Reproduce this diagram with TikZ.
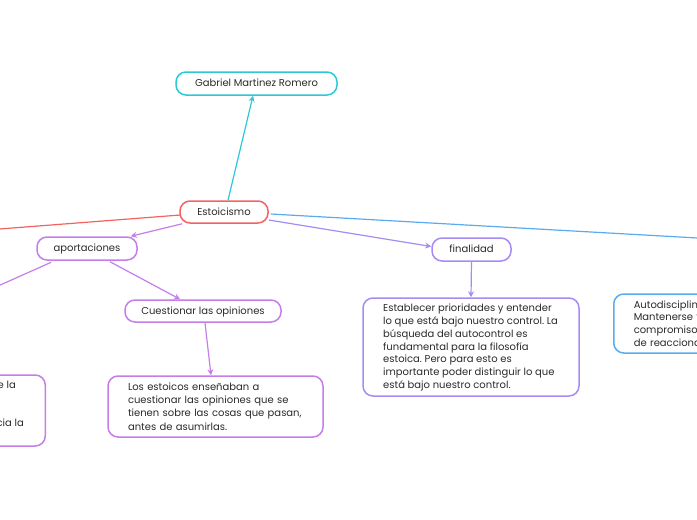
\documentclass[tikz,border=0pt]{standalone}
\usepackage{fontspec}
\setmainfont{Poppins}
\frenchspacing
\usetikzlibrary{arrows.meta,calc}
\definecolor{cyanc}{HTML}{2BC8D8}
\definecolor{redc}{HTML}{F2625F}
\definecolor{purc}{HTML}{C57DEA}
\definecolor{lavc}{HTML}{A68CF2}
\definecolor{bluec}{HTML}{5AAAF0}
\definecolor{txt}{HTML}{2A2A2A}
\begin{document}
\begin{tikzpicture}[x=1pt,y=-1pt,
  box/.style={draw,line width=1.5pt,rounded corners=10pt,inner sep=0pt,text=txt,
    font=\fontsize{10}{12.8}\selectfont},
  lbox/.style={box,text height=8.5pt,text depth=2pt},
  tbox/.style={box,align=left},
  conn/.style={line width=1.2pt},
  arr/.style={conn,-{Stealth[length=6pt,width=6pt]}}]
\useasboundingbox (0,0) rectangle (697,520);
% nodes
\node[lbox,draw=cyanc,minimum width=161pt,minimum height=23pt] (gab) at (256.5,83.5) {Gabriel Martinez Romero};
\node[lbox,draw=redc,minimum width=88pt,minimum height=22pt] (est) at (224,212) {Estoicismo};
\node[lbox,draw=purc,minimum width=100pt,minimum height=23pt] (apo) at (87,248.5) {aportaciones};
\node[lbox,draw=lavc,minimum width=79pt,minimum height=23pt] (fin) at (471.5,249.5) {finalidad};
\node[lbox,draw=purc,minimum width=156pt,minimum height=22pt] (cue) at (203,311) {Cuestionar las opiniones};
\node[tbox,draw=purc,minimum width=215pt,minimum height=61pt,text width=175pt,
  font=\fontsize{10}{13.4}\selectfont] (los) at (215.5,406.5)
  {Los estoicos enseñaban a\\cuestionar las opiniones que se\\tienen sobre las cosas que pasan,\\antes de asumirlas.};
\node[box,draw=lavc,minimum width=216pt,minimum height=98pt] (esb) at (471,347) {};
\node[text=txt,font=\fontsize{10}{12.8}\selectfont,align=left,inner sep=0pt,anchor=west] (esbt) at (383,347.5)
  {Establecer prioridades y entender\\lo que está bajo nuestro control. La\\búsqueda del autocontrol es\\fundamental para la filosofía\\estoica. Pero para esto es\\importante poder distinguir lo que\\está bajo nuestro control.};
\node[box,draw=bluec,minimum width=200pt,minimum height=59pt,text width=160pt,align=left,anchor=west] (aut) at (613,323.5)
  {Autodisciplina\\Mantenerse f\\compromisos\\de reacciona};
\node[box,draw=purc,minimum width=120pt,minimum height=71pt,anchor=east] (lft) at (46,410.5) {};
\node[text=txt,font=\fontsize{10}{12.8}\selectfont,anchor=base east,inner sep=0pt] (l1) at (16,388.5) {e la};
\node[text=txt,font=\fontsize{10}{12.8}\selectfont,anchor=base east,inner sep=0pt] (l2) at (24,426.5) {cia la};
% off-canvas ends
\coordinate (redfar) at (-20,230.5);
\coordinate (bluefar) at (760,241.5);
\coordinate (apofar) at (-20,294);
% connectors
\draw[conn,redc] ($(est.west)+(1,3)$) -- (redfar);
\draw[conn,bluec] ($(est.east)+(2,2)$) -- (bluefar);
\draw[conn,purc] ($(apo.south west)+(15,1.5)$) -- (apofar);
\draw[arr,cyanc] ([xshift=4pt]est.north) -- ([xshift=-3.5pt]gab.south);
\draw[arr,purc] ($(est.south west)+(3,0)$) -- ($(apo.north east)+(-7,0)$);
\draw[arr,lavc] ($(est.east)+(0,8)$) -- ($(fin.west)+(0,-3)$);
\draw[arr,purc] ($(apo.south)+(23,1)$) -- ([xshift=-23pt]cue.north);
\draw[arr,purc] ([xshift=2pt]cue.south) -- ([xshift=-4.5pt]los.north);
\draw[arr,lavc] (fin.south) -- (esb.north);
\end{tikzpicture}
\end{document}
